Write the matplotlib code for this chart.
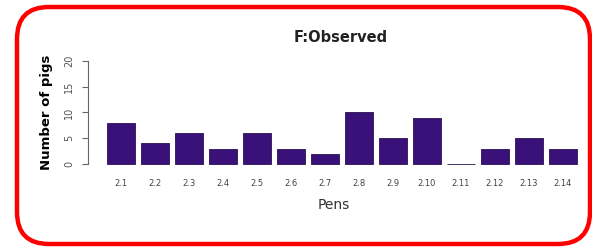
import matplotlib.pyplot as plt
from matplotlib.patches import FancyBboxPatch

# --- Data ---
pens = ['2.1', '2.2', '2.3', '2.4', '2.5', '2.6', '2.7',
        '2.8', '2.9', '2.10', '2.11', '2.12', '2.13', '2.14']
pigs = [8, 4, 6, 3, 6, 3, 2, 10, 5, 9, 0, 3, 5, 3]
y_ticks = [0, 5, 10, 15, 20]

BAR_COLOR = '#3a1178'
W, H = 592, 249

fig = plt.figure(figsize=(W / 100, H / 100), dpi=100)
fig.patch.set_facecolor('white')

# axes placed in pixel terms: y axis line at x=88, y=0 at 164px, y=20 at 61px
ax = fig.add_axes([88 / W, (H - 164) / H, (580 - 88) / W, (164 - 61) / H])

# R barplot style: width 1, space 0.2
lefts = [0.2 + 1.2 * i for i in range(len(pigs))]
centers = [l + 0.5 for l in lefts]
ax.bar(centers, pigs, width=1.0, color=BAR_COLOR, edgecolor='#2a1050',
       linewidth=0.6, clip_on=False)
# the empty pen still shows a thin outline line
ax.bar(centers[10], 0.08, width=1.0, color='#555555', clip_on=False)

ax.set_xlim(-0.47, 16.9)
ax.set_ylim(0, 20)

for s in ['top', 'right', 'bottom']:
    ax.spines[s].set_visible(False)
ax.spines['left'].set_color('#666666')
ax.spines['left'].set_linewidth(0.8)

ax.set_yticks(y_ticks)
ax.set_yticklabels([str(t) for t in y_ticks], rotation=90, va='center',
                   fontsize=7, color='#555555')
ax.tick_params(axis='y', direction='out', length=4, width=0.8,
               color='#666666', pad=6)

ax.set_xticks(centers)
ax.set_xticklabels(pens, fontsize=6, color='#444444')
ax.tick_params(axis='x', length=0, pad=11)

ax.set_ylabel('Number of pigs', fontsize=9.5, fontweight='bold', labelpad=8)
ax.set_xlabel('Pens', fontsize=10, color='#333333', labelpad=7)
fig.text(341 / W, 1 - 37 / H, 'F:Observed', ha='center', va='center',
         fontsize=10.5, fontweight='bold', color='#222222')

# red rounded frame, drawn on an overlay in pixel coordinates
over = fig.add_axes([0, 0, 1, 1], zorder=-1)
over.set_xlim(0, W)
over.set_ylim(H, 0)
over.axis('off')
frame = FancyBboxPatch((17, 7), 573, 237,
                       boxstyle='round,pad=0,rounding_size=32',
                       facecolor='none', edgecolor='#ff0000',
                       linewidth=3.2, clip_on=False)
over.add_patch(frame)

fig.savefig('out.png', dpi=100)
